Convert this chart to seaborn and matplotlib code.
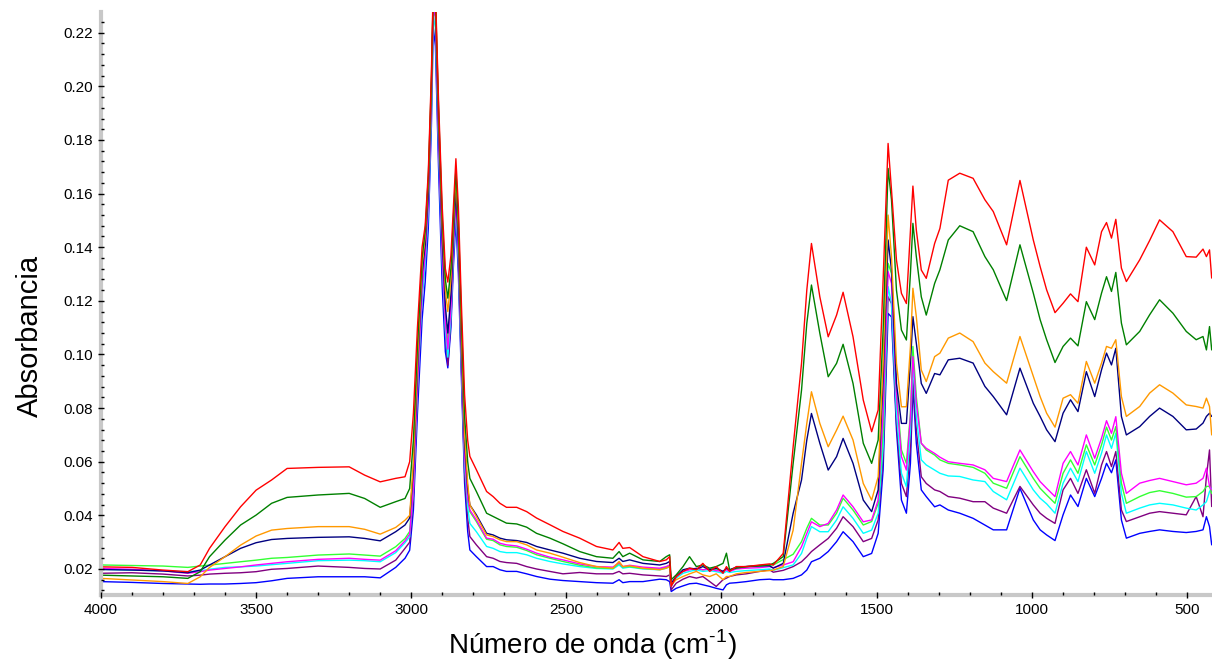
import seaborn as sns
import pandas as pd
import matplotlib.pyplot as plt
from matplotlib.ticker import MultipleLocator, FormatStrFormatter

# numero de onda (cm-1)
wn = [4000, 3900, 3800, 3720, 3680, 3650, 3600, 3550, 3500, 3450, 3400, 3300, 3200, 3150, 3100, 3050, 3020,
      3005, 2993, 2980, 2965, 2955, 2945, 2935, 2929, 2922, 2912, 2900, 2890, 2882, 2872, 2864, 2856, 2848, 2838, 2828, 2818,
      2811, 2790, 2757, 2736, 2714, 2693, 2660, 2628, 2596, 2553, 2511, 2457, 2403, 2350, 2330, 2318, 2296, 2253, 2199, 2178,
      2167, 2162, 2146, 2124, 2103, 2081, 2060, 2038, 2017, 1995, 1984, 1974, 1952, 1920, 1877, 1845,
      1833, 1801, 1769, 1742, 1725, 1710, 1683, 1656, 1629, 1608, 1576, 1543, 1516, 1495, 1479, 1463, 1452, 1436, 1420, 1404,
      1391, 1383, 1372, 1356, 1340, 1313,
      1296, 1269, 1232, 1189, 1151, 1124, 1081, 1038, 995, 973, 952, 925, 899, 875, 851, 824, 797, 775, 759, 743, 729, 711,
      695, 652, 620, 588, 545, 502, 470, 448, 437, 427, 420]

rojo = [0.0208, 0.0206, 0.0196, 0.0190, 0.0215, 0.0277, 0.0358, 0.0432, 0.0494, 0.0532, 0.0575, 0.0579, 0.0581, 0.0550, 0.0525, 0.0538, 0.0544,
        0.060, 0.078, 0.110, 0.140, 0.148, 0.168, 0.205, 0.238, 0.236, 0.195, 0.155, 0.132, 0.127, 0.137, 0.155, 0.173, 0.155, 0.118, 0.085, 0.068,
        0.062, 0.057, 0.0489, 0.047, 0.0445, 0.043, 0.043, 0.0414, 0.039, 0.0365, 0.034, 0.0315, 0.0284, 0.0271, 0.0299, 0.0277, 0.028, 0.0246, 0.0228, 0.0234,
        0.0246, 0.0135, 0.0172, 0.0191, 0.0203, 0.0197, 0.0221, 0.0191, 0.0209, 0.0184, 0.0209, 0.0191, 0.0209, 0.0209, 0.0215, 0.0219,
        0.0215, 0.0258, 0.0656, 0.0967, 0.124, 0.1414, 0.1215, 0.1066, 0.1147, 0.1232, 0.1066, 0.083, 0.0712, 0.0793, 0.1278, 0.1787, 0.1613, 0.1352, 0.1228, 0.119,
        0.1464, 0.1628, 0.1464, 0.1315, 0.1284, 0.1414,
        0.147, 0.165, 0.1676, 0.1657, 0.1577, 0.1533, 0.1409, 0.1649, 0.1427, 0.1328, 0.1241, 0.1156, 0.1191, 0.1226, 0.1197, 0.140, 0.1334, 0.1458, 0.1492, 0.1434, 0.1504, 0.1322,
        0.1272, 0.1353, 0.1425, 0.1502, 0.1458, 0.1365, 0.1363, 0.1393, 0.1365, 0.139, 0.1285]

verde = [0.0177, 0.0174, 0.0171, 0.0165, 0.0190, 0.0246, 0.0308, 0.0364, 0.0401, 0.0445, 0.0467, 0.0476, 0.0482, 0.0463, 0.0430, 0.0451, 0.0463,
         0.050, 0.068, 0.103, 0.136, 0.146, 0.166, 0.202, 0.236, 0.234, 0.192, 0.151, 0.128, 0.121, 0.132, 0.151, 0.169, 0.150, 0.112, 0.077, 0.060,
         0.0538, 0.0489, 0.0408, 0.0396, 0.0383, 0.0371, 0.0368, 0.0356, 0.0333, 0.0315, 0.0294, 0.0265, 0.0246, 0.0240, 0.0265, 0.0246, 0.0259, 0.0234, 0.0228, 0.0246,
         0.0253, 0.0160, 0.0178, 0.0209, 0.0246, 0.0209, 0.0215, 0.0203, 0.0209, 0.0221, 0.0259, 0.0197, 0.0203, 0.0209, 0.0213, 0.0215,
         0.0221, 0.0246, 0.0594, 0.0867, 0.1116, 0.1259, 0.1079, 0.0917, 0.0967, 0.1038, 0.0892, 0.0669, 0.0594, 0.0681, 0.1091, 0.1694, 0.1576, 0.124, 0.1091, 0.1054,
         0.1302, 0.1489, 0.1365, 0.1215, 0.1147, 0.1265,
         0.1316, 0.1427, 0.148, 0.1458, 0.1365, 0.1316, 0.1201, 0.1409, 0.1229, 0.113, 0.1055, 0.097, 0.103, 0.1061, 0.1032, 0.1197, 0.113, 0.1229, 0.129, 0.1235, 0.1306, 0.1117,
         0.1036, 0.1086, 0.1148, 0.1204, 0.1154, 0.1086, 0.1055, 0.1067, 0.1017, 0.1104, 0.1017]

naranja = [0.0165, 0.0159, 0.0153, 0.0146, 0.0171, 0.0206, 0.0246, 0.0289, 0.0323, 0.0345, 0.0351, 0.0358, 0.0358, 0.0348, 0.0330, 0.0355, 0.0382,
           0.040, 0.060, 0.097, 0.133, 0.144, 0.164, 0.200, 0.235, 0.233, 0.190, 0.148, 0.124, 0.116, 0.128, 0.148, 0.166, 0.147, 0.107, 0.070, 0.052,
           0.0439, 0.0396, 0.0327, 0.0321, 0.0309, 0.0302, 0.0302, 0.0290, 0.0271, 0.0259, 0.0244, 0.0224, 0.0209, 0.0203, 0.0228, 0.0209, 0.0212, 0.0203, 0.0197, 0.0203,
           0.0209, 0.0141, 0.0160, 0.0172, 0.0182, 0.0191, 0.0178, 0.0172, 0.0182, 0.0160, 0.0172, 0.0172, 0.0182, 0.0187, 0.0191, 0.0194,
           0.0196, 0.0209, 0.0345, 0.0594, 0.0743, 0.0861, 0.0743, 0.0656, 0.0718, 0.077, 0.0681, 0.0519, 0.0457, 0.0544, 0.0967, 0.152, 0.1365, 0.0967, 0.0805, 0.0805,
           0.103, 0.1247, 0.1141, 0.0942, 0.0899, 0.0992,
           0.1005, 0.1061, 0.108, 0.1048, 0.0968, 0.0936, 0.0893, 0.1067, 0.0918, 0.0843, 0.0781, 0.0729, 0.0837, 0.085, 0.0818, 0.0974, 0.0893, 0.0968, 0.103, 0.1023, 0.1055, 0.0843,
           0.0769, 0.0806, 0.0856, 0.0887, 0.0856, 0.0812, 0.0806, 0.080, 0.0837, 0.0806, 0.070]

azul_marino = [0.0198, 0.0196, 0.0193, 0.0186, 0.0196, 0.0215, 0.0246, 0.0277, 0.0298, 0.0310, 0.0314, 0.0318, 0.0320, 0.0314, 0.0305, 0.0339, 0.0364,
               0.039, 0.057, 0.094, 0.130, 0.141, 0.160, 0.198, 0.233, 0.230, 0.186, 0.143, 0.118, 0.108, 0.122, 0.144, 0.161, 0.142, 0.102, 0.067, 0.050,
               0.0439, 0.0402, 0.0333, 0.0327, 0.0315, 0.0309, 0.0306, 0.0299, 0.0284, 0.0271, 0.0259, 0.0240, 0.0228, 0.0224, 0.0240, 0.0228, 0.0234, 0.0221, 0.0215, 0.0221,
               0.0228, 0.0147, 0.0172, 0.0197, 0.0203, 0.0200, 0.0209, 0.0197, 0.0203, 0.0191, 0.0203, 0.0197, 0.0207, 0.0209, 0.0212, 0.0212,
               0.0203, 0.0221, 0.0408, 0.0532, 0.0681, 0.078, 0.0669, 0.0569, 0.0619, 0.0687, 0.0594, 0.0457, 0.0414, 0.0495, 0.0905, 0.1427, 0.1315, 0.0892, 0.0743, 0.0743,
               0.0967, 0.1141, 0.1042, 0.0892, 0.0855, 0.0929,
               0.0924, 0.098, 0.0986, 0.0968, 0.0881, 0.0843, 0.0775, 0.0949, 0.0818, 0.0769, 0.0719, 0.0675, 0.0781, 0.0831, 0.0787, 0.0936, 0.0843, 0.0943, 0.1005, 0.0961, 0.1023, 0.0769,
               0.070, 0.0731, 0.0769, 0.080, 0.0769, 0.0719, 0.0722, 0.0744, 0.0769, 0.0781, 0.0769]

lima = [0.0215, 0.0213, 0.0211, 0.0206, 0.0211, 0.0215, 0.0221, 0.0227, 0.0233, 0.0240, 0.0243, 0.0252, 0.0256, 0.0252, 0.0248, 0.0283, 0.0314,
        0.034, 0.052, 0.090, 0.127, 0.139, 0.158, 0.196, 0.232, 0.229, 0.184, 0.140, 0.115, 0.105, 0.120, 0.142, 0.160, 0.140, 0.100, 0.064, 0.047,
        0.0414, 0.0377, 0.0311, 0.0306, 0.0290, 0.0284, 0.0281, 0.0269, 0.0253, 0.0240, 0.0228, 0.0214, 0.0204, 0.0202, 0.0221, 0.0207, 0.0209, 0.0202, 0.0200, 0.0207,
        0.0212, 0.0141, 0.0174, 0.0191, 0.0200, 0.0202, 0.0197, 0.0201, 0.0197, 0.0191, 0.0200, 0.0194, 0.0202, 0.0207, 0.0209, 0.0214,
        0.0215, 0.0235, 0.0255, 0.0302, 0.0352, 0.0389, 0.0364, 0.0364, 0.0408, 0.0464, 0.042, 0.0364, 0.0377, 0.0445, 0.0718, 0.134, 0.1302, 0.0867, 0.0644, 0.0594,
        0.078, 0.103, 0.0843, 0.0669, 0.0644, 0.0625,
        0.0607, 0.0594, 0.0588, 0.0579, 0.0557, 0.052, 0.0501, 0.0619, 0.0538, 0.0501, 0.0476, 0.0445, 0.0557, 0.0607, 0.0557, 0.0663, 0.0588, 0.0663, 0.0729, 0.0681, 0.0731, 0.052,
        0.0445, 0.047, 0.0485, 0.0492, 0.0482, 0.0468, 0.047, 0.0489, 0.0508, 0.0508, 0.0482]

magenta = [0.0202, 0.0199, 0.0193, 0.0184, 0.0190, 0.0196, 0.0202, 0.0208, 0.0215, 0.0221, 0.0227, 0.0236, 0.0240, 0.0236, 0.0233, 0.0268, 0.0305,
           0.033, 0.050, 0.088, 0.125, 0.137, 0.156, 0.194, 0.230, 0.226, 0.181, 0.137, 0.112, 0.102, 0.117, 0.140, 0.158, 0.138, 0.098, 0.062, 0.046,
           0.0420, 0.0383, 0.0315, 0.0311, 0.0296, 0.0290, 0.0286, 0.0274, 0.0259, 0.0244, 0.0234, 0.0219, 0.0209, 0.0207, 0.0224, 0.0209, 0.0214, 0.0207, 0.0203, 0.0209,
           0.0215, 0.0137, 0.0172, 0.0191, 0.0197, 0.0203, 0.0197, 0.0200, 0.0194, 0.0191, 0.0197, 0.0191, 0.0200, 0.0203, 0.0205, 0.0209,
           0.0205, 0.0215, 0.0227, 0.0283, 0.0333, 0.0376, 0.0358, 0.037, 0.042, 0.0476, 0.0432, 0.0376, 0.0383, 0.0457, 0.078, 0.1309, 0.1265, 0.0843, 0.0619, 0.0569,
           0.0768, 0.0992, 0.0818, 0.0669, 0.065, 0.0631,
           0.0617, 0.060, 0.0594, 0.0588, 0.057, 0.0538, 0.0526, 0.0644, 0.0563, 0.0526, 0.0501, 0.047, 0.0594, 0.0638, 0.0588, 0.070, 0.0613, 0.0688, 0.0753, 0.0706, 0.0768, 0.0557,
           0.0482, 0.052, 0.053, 0.0538, 0.0526, 0.0514, 0.052, 0.0538, 0.0576, 0.0508, 0.0495]

cian = [0.0199, 0.0196, 0.0193, 0.0190, 0.0193, 0.0199, 0.0206, 0.0208, 0.0211, 0.0216, 0.0221, 0.0231, 0.0233, 0.0231, 0.0227, 0.0261, 0.0298,
        0.032, 0.049, 0.086, 0.122, 0.134, 0.153, 0.190, 0.226, 0.222, 0.178, 0.134, 0.109, 0.099, 0.114, 0.137, 0.155, 0.135, 0.095, 0.059, 0.043,
        0.0370, 0.0339, 0.0284, 0.0277, 0.0265, 0.0261, 0.0261, 0.0253, 0.0240, 0.0228, 0.0219, 0.0209, 0.0202, 0.0200, 0.0215, 0.0203, 0.0207, 0.0200, 0.0197, 0.0203,
        0.0209, 0.0135, 0.0166, 0.0184, 0.0191, 0.0197, 0.0191, 0.0194, 0.0190, 0.0184, 0.0191, 0.0187, 0.0191, 0.0194, 0.0197, 0.0200,
        0.0195, 0.0205, 0.0215, 0.0258, 0.0314, 0.0358, 0.0339, 0.0339, 0.0383, 0.0432, 0.0389, 0.0333, 0.0345, 0.0408, 0.0656, 0.1253, 0.119, 0.078, 0.0557, 0.0507,
        0.0718, 0.0967, 0.0768, 0.0607, 0.0588, 0.0569,
        0.0557, 0.0547, 0.0545, 0.0532, 0.0526, 0.0489, 0.0458, 0.0576, 0.0495, 0.0464, 0.0443, 0.0408, 0.052, 0.0576, 0.0526, 0.0638, 0.0557, 0.0632, 0.070, 0.065, 0.0706, 0.0482,
        0.0408, 0.0427, 0.0439, 0.0445, 0.0439, 0.0427, 0.042, 0.0439, 0.0451, 0.0489, 0.0501]

morado = [0.0184, 0.0186, 0.0181, 0.0174, 0.0177, 0.0181, 0.0184, 0.0186, 0.0190, 0.0199, 0.0202, 0.0211, 0.0206, 0.0202, 0.0200, 0.0233, 0.0277,
          0.030, 0.047, 0.085, 0.122, 0.135, 0.155, 0.193, 0.230, 0.226, 0.180, 0.136, 0.108, 0.096, 0.113, 0.137, 0.156, 0.135, 0.094, 0.056, 0.039,
          0.0321, 0.0290, 0.0246, 0.0240, 0.0228, 0.0224, 0.0221, 0.0209, 0.0200, 0.0191, 0.0182, 0.0187, 0.0182, 0.0182, 0.0191, 0.0182, 0.0184, 0.0178, 0.0174, 0.0172,
          0.0178, 0.0122, 0.0147, 0.0162, 0.0172, 0.0166, 0.0172, 0.0153, 0.0135, 0.0160, 0.0166, 0.0172, 0.0178, 0.0182, 0.0191, 0.0197,
          0.0188, 0.0195, 0.0209, 0.0227, 0.0246, 0.0265, 0.029, 0.0314, 0.0352, 0.0395, 0.0358, 0.0302, 0.0314, 0.0383, 0.0619, 0.1215, 0.119, 0.0743, 0.0519, 0.047,
          0.0656, 0.0905, 0.0718, 0.0544, 0.0519, 0.0495,
          0.0489, 0.047, 0.0464, 0.0451, 0.0451, 0.0427, 0.0408, 0.0508, 0.0439, 0.0408, 0.0389, 0.037, 0.0495, 0.0538, 0.0482, 0.057, 0.0482, 0.0588, 0.0638, 0.0582, 0.0638, 0.042,
          0.0377, 0.0395, 0.0408, 0.0414, 0.0408, 0.0402, 0.047, 0.0395, 0.0545, 0.0644, 0.0433]

azul = [0.0153, 0.0150, 0.0146, 0.0144, 0.0143, 0.0144, 0.0144, 0.0146, 0.0149, 0.0156, 0.0165, 0.0171, 0.0171, 0.0171, 0.0167, 0.0206, 0.0240,
        0.027, 0.042, 0.078, 0.113, 0.127, 0.147, 0.185, 0.222, 0.215, 0.170, 0.125, 0.101, 0.095, 0.110, 0.133, 0.150, 0.130, 0.090, 0.052, 0.034,
        0.0271, 0.0246, 0.0209, 0.0209, 0.0197, 0.0191, 0.0191, 0.0182, 0.0172, 0.0162, 0.0157, 0.0153, 0.0149, 0.0147, 0.0160, 0.0149, 0.0153, 0.0153, 0.0162, 0.0160,
        0.0153, 0.0116, 0.0128, 0.0137, 0.0145, 0.0147, 0.0141, 0.0135, 0.0128, 0.0122, 0.0141, 0.0147, 0.0149, 0.0153, 0.0160, 0.0162,
        0.0160, 0.0160, 0.0165, 0.0178, 0.0196, 0.0227, 0.024, 0.0265, 0.0302, 0.0339, 0.0302, 0.0246, 0.0258, 0.0333, 0.0569, 0.1153, 0.114, 0.0718, 0.0457, 0.0408,
        0.0594, 0.088, 0.0669, 0.0495, 0.047, 0.0432,
        0.0439, 0.042, 0.0408, 0.0389, 0.0364, 0.0346, 0.0346, 0.0501, 0.0383, 0.0346, 0.0327, 0.0306, 0.0402, 0.0476, 0.0433, 0.0538, 0.047, 0.0538, 0.0594, 0.0559, 0.0607, 0.0383,
        0.0315, 0.0333, 0.034, 0.0346, 0.034, 0.0336, 0.034, 0.0346, 0.0395, 0.0358, 0.029]

# orden de dibujo: el primero queda debajo
series = {
    "azul": azul, "morado": morado, "cian": cian, "lima": lima, "magenta": magenta,
    "azul_marino": azul_marino, "naranja": naranja, "verde": verde, "rojo": rojo,
}
colores = {
    "azul": "#0000ff", "morado": "#800080", "cian": "#00ffff", "lima": "#33ff33", "magenta": "#ff00ff",
    "azul_marino": "#000080", "naranja": "#ff9900", "verde": "#008000", "rojo": "#ff0000",
}

df = pd.concat([pd.DataFrame({"wn": wn, "absorbancia": v, "muestra": k}) for k, v in series.items()])

sns.set_style("white")
plt.rcParams['font.family'] = ['Liberation Sans', 'DejaVu Sans']
plt.rcParams['mathtext.fontset'] = 'custom'
plt.rcParams['mathtext.rm'] = 'Liberation Sans'
for k in ['text.color', 'axes.labelcolor', 'xtick.color', 'ytick.color']:
    plt.rcParams[k] = 'black'

fig = plt.figure(figsize=(12.12, 6.62), dpi=100)
ax = fig.add_axes([0.0833, 0.1012, 0.9167, 0.881])

sns.lineplot(ax=ax, data=df, x="wn", y="absorbancia", hue="muestra", hue_order=list(series.keys()),
             palette=colores, linewidth=1.0, legend=False, sort=False, estimator=None)

ax.set_xlim(4000, 419)
ax.set_ylim(0.0103, 0.2278)
ax.xaxis.set_major_locator(MultipleLocator(500))
ax.xaxis.set_minor_locator(MultipleLocator(100))
ax.yaxis.set_major_locator(MultipleLocator(0.02))
ax.yaxis.set_minor_locator(MultipleLocator(0.004))
ax.yaxis.set_major_formatter(FormatStrFormatter('%.2f'))

for s in ["top", "right"]:
    ax.spines[s].set_visible(False)
for s in ["left", "bottom"]:
    ax.spines[s].set_color("#c8c8c8")
    ax.spines[s].set_linewidth(3)
ax.xaxis.set_zorder(3)
ax.yaxis.set_zorder(3)
ax.tick_params(which="major", direction="inout", length=5, width=1, color="black", labelsize=11, pad=3,
               labelcolor="black")
ax.tick_params(which="minor", direction="in", length=2, width=1, color="black")
ax.tick_params(axis="x", which="both", bottom=True)
ax.tick_params(axis="y", which="both", left=True)

ax.set_xlabel("Número de onda (cm$^{\\text{-1}}$)", fontsize=20, color="black")
ax.set_ylabel("Absorbancia", fontsize=21, color="black")
ax.xaxis.set_label_coords(0.442, -0.056)
ax.yaxis.set_label_coords(-0.051, 0.444)

plt.savefig("out.png", dpi=100)
